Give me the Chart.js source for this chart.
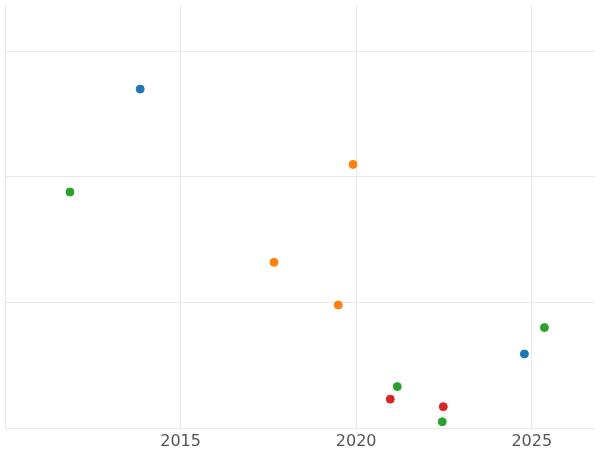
<!DOCTYPE html>
<html><head><meta charset="utf-8">
<script src="https://cdn.jsdelivr.net/npm/chart.js@4"></script>
<style>html,body{margin:0;padding:0;background:#fff}#w{width:600px;height:450px}</style>
</head><body><div id="w"><canvas id="c"></canvas></div>
<script>
const blueX=[2013.85,2024.79], blueY=[2.70,0.59];
const orangeX=[2019.91,2017.66,2019.49], orangeY=[2.10,1.32,0.98];
const greenX=[2011.85,2025.36,2021.17,2022.45], greenY=[1.88,0.80,0.33,0.05];
const redX=[2020.97,2022.48], redY=[0.23,0.17];
const xTicks=[2015,2020,2025];
const xGrid=[2010,2015,2020,2025];
const yGrid=[0,1,2,3];
const pts=(xs,ys)=>xs.map((x,i)=>({x,y:ys[i]}));
const ds=(d,c)=>({data:d,backgroundColor:c,borderColor:c,pointRadius:4,pointHoverRadius:4});
new Chart(document.getElementById('c'),{type:'scatter',
data:{datasets:[ds(pts(blueX,blueY),'#1f77b4'),ds(pts(orangeX,orangeY),'#ff7f0e'),ds(pts(greenX,greenY),'#2ca02c'),ds(pts(redX,redY),'#d62728')]},
options:{responsive:true,maintainAspectRatio:false,animation:false,
layout:{padding:{left:4,right:0,top:0,bottom:0}},
plugins:{legend:{display:false},tooltip:{enabled:false}},
scales:{
x:{type:'linear',min:2010,max:2026.8,border:{display:false},grid:{color:'#e8e8e8',drawTicks:false},
afterBuildTicks:a=>{a.ticks=xGrid.map(v=>({value:v}));},
afterFit:a=>{a.height=22;},
ticks:{padding:4,maxRotation:0,autoSkip:false,color:'#555',font:{family:'DejaVu Sans',size:16},callback:v=>xTicks.includes(v)?String(v):''}},
y:{min:0,max:3.37,border:{display:false},grid:{color:'#e8e8e8',drawTicks:false},
afterBuildTicks:a=>{a.ticks=yGrid.map(v=>({value:v}));},
ticks:{display:false}}
}}});
</script></body></html>
